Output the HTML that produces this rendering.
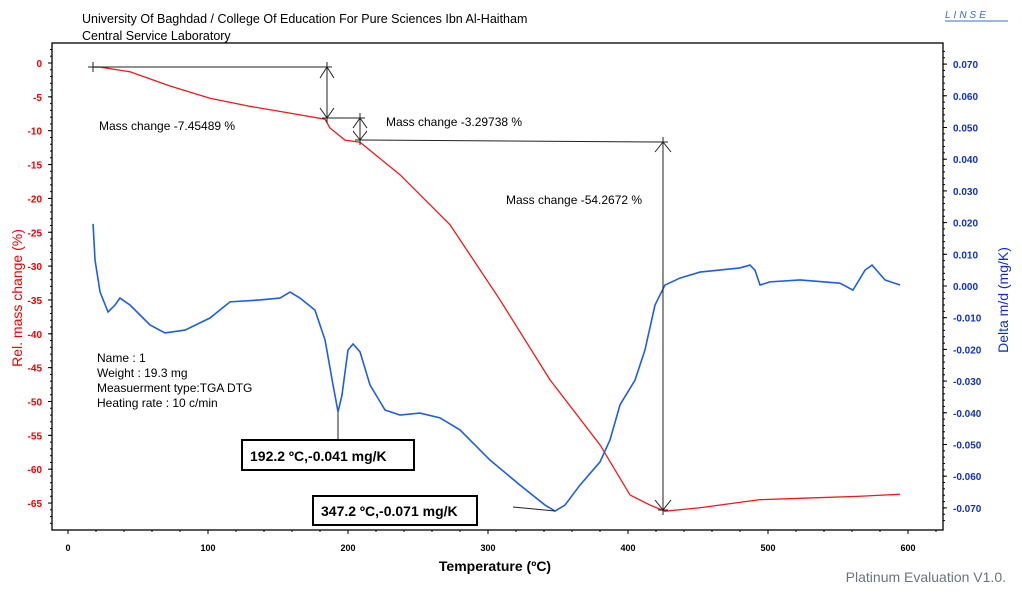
<!DOCTYPE html>
<html><head><meta charset="utf-8"><style>
body{margin:0;background:#fff;width:1022px;height:594px;overflow:hidden;font-family:"Liberation Sans",sans-serif}
</style></head><body>
<svg id="c" width="1022" height="594" xmlns="http://www.w3.org/2000/svg" font-family="Liberation Sans, sans-serif">
<text x="82" y="23" font-size="12.5">University Of Baghdad / College Of Education For Pure Sciences Ibn Al-Haitham</text>
<text x="82" y="40" font-size="12.5">Central Service Laboratory</text>
<text x="945" y="18" font-size="10" font-style="italic" fill="#3a6fc0" letter-spacing="3">LINSE</text>
<line x1="945" y1="21" x2="1008" y2="21" stroke="#3a6fc0"/>
<text x="1006" y="582" font-size="14" fill="#6a7480" text-anchor="end">Platinum Evaluation V1.0.</text>
<g id="axes"></g>
<g id="series"></g>
<g id="ann"></g>
</svg>
<script>
const xTicks=[0,100,200,300,400,500,600];
const yLeftTicks=[0,-5,-10,-15,-20,-25,-30,-35,-40,-45,-50,-55,-60,-65];
const yRightTicks=[0.07,0.06,0.05,0.04,0.03,0.02,0.01,0,-0.01,-0.02,-0.03,-0.04,-0.05,-0.06,-0.07];
const tgaT=[17.9,22.9,44.3,72.9,101.4,130,158.6,183.6,187.1,197.9,208.6,237.1,272.9,308.6,344.3,380,401.4,415.7,426.4,451.4,494.3,522.9,565.7,594.3];
const tgaM=[-0.6,-0.6,-1.3,-3.4,-5.2,-6.4,-7.4,-8.3,-9.6,-11.4,-11.7,-16.5,-23.9,-35.0,-46.8,-56.4,-63.8,-65.3,-66.2,-65.7,-64.5,-64.3,-64.0,-63.7];
const dtgT=[17.9,19.3,22.9,28.6,33.6,37.1,44.3,58.6,69.3,83.6,101.4,115.7,137.1,151.4,158.6,165.7,176.4,183.6,189.3,192.9,195.7,200,203.6,208.6,215.7,226.4,237.1,251.4,265.7,280,301.4,322.9,340.7,347.9,355,365.7,380,387.1,394.3,405,412.1,419.3,426.4,437.1,451.4,480,487.1,490.7,494.3,501.4,522.9,551.4,560.7,569.3,574.3,583.6,594.3];
const dtgV=[19.6,8.2,-1.9,-8.2,-6.0,-3.8,-6.0,-12.3,-14.8,-13.9,-10.1,-5.0,-4.4,-3.8,-1.9,-3.8,-7.6,-17.0,-31.2,-39.7,-34.4,-20.2,-18.3,-20.8,-31.2,-39.1,-40.7,-40.1,-41.6,-45.4,-54.9,-62.8,-69.1,-71,-69.1,-62.8,-55.5,-48.6,-37.5,-29.7,-20.2,-6.0,0.3,2.5,4.4,5.7,6.6,5.0,0.3,1.3,1.9,0.9,-1.3,5.0,6.6,1.9,0.3];
const X=t=>68+t*1.4, YL=m=>63-m*6.77, YR=v=>286-v*3170;
const NS='http://www.w3.org/2000/svg';
function mk(tag,attrs,parent,txt){const e=document.createElementNS(NS,tag);for(const k in attrs)e.setAttribute(k,attrs[k]);if(txt!==undefined)e.textContent=txt;document.getElementById(parent).appendChild(e);return e;}
let e;
e=mk('rect',{x:52,y:43,width:891,height:487,fill:'none',stroke:'#000','stroke-width':1.3},'axes');


xTicks.forEach(t=>{e=mk('text',{x:X(t),y:551,'font-size':9,'font-weight':'bold','text-anchor':'middle'},'axes',t);


mk('line',{x1:X(t),y1:530,x2:X(t),y2:534,stroke:'#000'},'axes');});
for(let t=0;t<=620;t+=20){mk('line',{x1:X(t),y1:530,x2:X(t),y2:532,stroke:'#000'},'axes');}
yLeftTicks.forEach(m=>{e=mk('text',{x:42,y:YL(m)+4,'font-size':10,'font-weight':'bold',fill:'#e00','text-anchor':'end'},'axes',m);


mk('line',{x1:48,y1:YL(m),x2:52,y2:YL(m),stroke:'#000'},'axes');});
for(let m=2;m>=-68;m--){mk('line',{x1:50,y1:YL(m),x2:52,y2:YL(m),stroke:'#000'},'axes');}
yRightTicks.forEach(v=>{e=mk('text',{x:953,y:YR(v)+4,'font-size':10,'font-weight':'bold',fill:'#1030c0'},'axes',v.toFixed(3));


mk('line',{x1:943,y1:YR(v),x2:947,y2:YR(v),stroke:'#000'},'axes');});
for(let v=0.074;v>=-0.076;v-=0.002){mk('line',{x1:943,y1:YR(v),x2:945,y2:YR(v),stroke:'#000'},'axes');}
e=mk('text',{x:0,y:0,'font-size':14,fill:'#e00','text-anchor':'middle',transform:'translate(22,298) rotate(-90)'},'axes','Rel. mass change (%)');


e=mk('text',{x:0,y:0,'font-size':14,fill:'#1030c0','text-anchor':'middle',transform:'translate(1008,300) rotate(-90)'},'axes','Delta m/d (mg/K)');


e=mk('text',{x:495,y:571,'font-size':14,'font-weight':'bold','text-anchor':'middle'},'axes','Temperature (ºC)');


e=mk('polyline',{points:tgaT.map((t,i)=>X(t)+','+YL(tgaM[i])).join(' '),fill:'none',stroke:'#f01818','stroke-width':1.3},'series');


e=mk('polyline',{points:dtgT.map((t,i)=>X(t)+','+YR(dtgV[i]/1000)).join(' '),fill:'none',stroke:'#1e5ee0','stroke-width':1.6},'series');


const A='ann';
function ln(a,b,c,d){mk('line',{x1:a,y1:b,x2:c,y2:d,stroke:'#222','stroke-width':1},A);}
function cross(x,y){ln(x-5,y,x+5,y);ln(x,y-5,x,y+5);}
ln(93,67,327,67);cross(93,67);cross(327,67);ln(327,67,327,118);cross(327,118);ln(320,78,327,67);ln(334,78,327,67);ln(320,108,327,118);ln(334,108,327,118);
ln(327,118,360,118);cross(360,118);ln(360,118,360,140);cross(360,140);ln(353,128,360,118);ln(367,128,360,118);ln(353,131,360,140);ln(367,131,360,140);
ln(360,140,663,142);ln(663,142,663,510);cross(663,142);cross(663,510);ln(655,152,663,142);ln(671,152,663,142);ln(655,500,663,510);ln(671,500,663,510);
[[99,130,'Mass change  -7.45489 %'],[386,126,'Mass change  -3.29738 %'],[506,204,'Mass change  -54.2672 %']].forEach(a=>{e=mk('text',{x:a[0],y:a[1],'font-size':12},A,a[2]);

});
['Name : 1','Weight : 19.3  mg','Measuerment type:TGA  DTG','Heating rate : 10 c/min'].forEach((s,i)=>{e=mk('text',{x:97,y:362+i*15,'font-size':12},A,s);

});
ln(338,412,338,440);
e=mk('rect',{x:242,y:440,width:172,height:30,fill:'#fff',stroke:'#000','stroke-width':2},A);


e=mk('text',{x:250,y:461,'font-size':14,'font-weight':'bold'},A,'192.2 ºC,-0.041 mg/K');


ln(513,507,555,511);
e=mk('rect',{x:313,y:496,width:164,height:29,fill:'#fff',stroke:'#000','stroke-width':2},A);


e=mk('text',{x:321,y:516,'font-size':14,'font-weight':'bold'},A,'347.2 ºC,-0.071 mg/K');


</script>
</body></html>
